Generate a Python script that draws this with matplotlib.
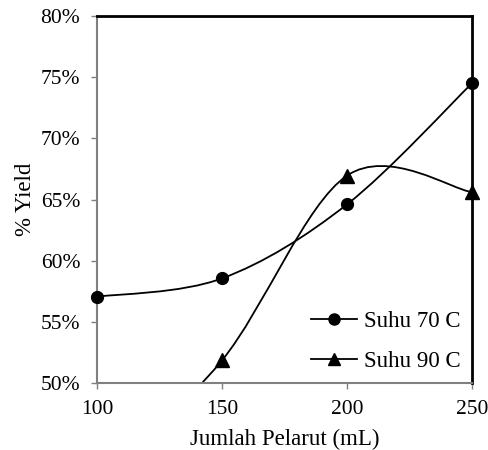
import matplotlib
matplotlib.use("Agg")
import matplotlib.pyplot as plt
from matplotlib.path import Path
from matplotlib.patches import PathPatch
from matplotlib.lines import Line2D
from matplotlib.ticker import FuncFormatter

x_vals = [100, 150, 200, 250]
suhu70 = [57.05, 58.55, 64.6, 74.5]
suhu90 = [42.0, 51.85, 66.95, 65.6]
labels = ["Suhu 70 C", "Suhu 90 C"]
xticks = [100, 150, 200, 250]
yticks = [50, 55, 60, 65, 70, 75, 80]

plt.rcParams['font.family'] = ['Liberation Serif', 'DejaVu Serif']

def smooth_path(xs, ys):
    pts = list(zip(xs, ys))
    n = len(pts)
    verts = [pts[0]]
    codes = [Path.MOVETO]
    for i in range(n - 1):
        p0 = pts[i - 1] if i > 0 else pts[i]
        p1 = pts[i]
        p2 = pts[i + 1]
        p3 = pts[i + 2] if i + 2 < n else pts[i + 1]
        c1 = (p1[0] + (p2[0] - p0[0]) / 6, p1[1] + (p2[1] - p0[1]) / 6)
        c2 = (p2[0] - (p3[0] - p1[0]) / 6, p2[1] - (p3[1] - p1[1]) / 6)
        verts += [c1, c2, p2]
        codes += [Path.CURVE4] * 3
    return Path(verts, codes)

fig = plt.figure(figsize=(4.89, 4.5), dpi=100)
ax = fig.add_axes([97/489, 1 - 383/450, (472-97)/489, (383-16)/450])

for ys, m, ms in [(suhu70, 'o', 8.5), (suhu90, '^', 10)]:
    patch = PathPatch(smooth_path(x_vals, ys), facecolor='none', edgecolor='black', lw=1.3, zorder=2)
    ax.add_patch(patch)
    ax.plot(x_vals, ys, linestyle='none', marker=m, markersize=ms, color='black', zorder=3, clip_on=False)

ax.set_xlim(100, 250)
ax.set_ylim(50, 80)
ax.set_xticks(xticks)
ax.set_yticks(yticks)
ax.yaxis.set_major_formatter(FuncFormatter(lambda v, p: f"{v:.0f}%"))
ax.tick_params(direction='out', length=4, width=1, color='#808080', labelsize=15.5, pad=8)
for s in ['left', 'bottom']:
    ax.spines[s].set_color('#808080')
    ax.spines[s].set_linewidth(1.5)
for s in ['top', 'right']:
    ax.spines[s].set_color('black')
    ax.spines[s].set_linewidth(2)

ax.set_xlabel("Jumlah Pelarut (mL)", fontsize=16.5, labelpad=7)
ax.set_ylabel("% Yield", fontsize=16.5, labelpad=3)

handles = [Line2D([], [], color='black', lw=1.3, marker='o', markersize=8),
           Line2D([], [], color='black', lw=1.3, marker='^', markersize=8)]
ax.legend(handles, labels, loc='lower right', frameon=False, fontsize=16.5,
          handlelength=2.0, handletextpad=0.3, labelspacing=0.8,
          bbox_to_anchor=(1.0, 0.0), borderaxespad=0.1)

fig.savefig("out.png", dpi=100)
